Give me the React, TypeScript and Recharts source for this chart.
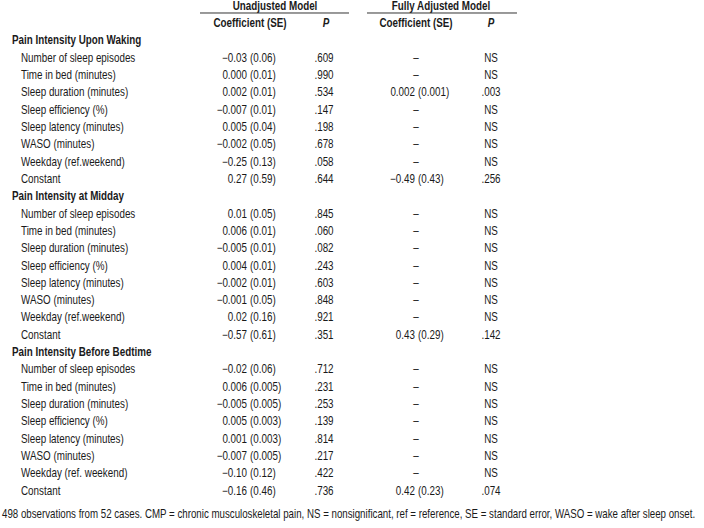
import React from 'react';
import { ComposedChart, Bar, XAxis, YAxis } from 'recharts';

// table content
const groups = ['Pain Intensity Upon Waking', 'Pain Intensity at Midday', 'Pain Intensity Before Bedtime'];
const predictors = [
  'Number of sleep episodes',
  'Time in bed (minutes)',
  'Sleep duration (minutes)',
  'Sleep efficiency (%)',
  'Sleep latency (minutes)',
  'WASO (minutes)',
  'Weekday (ref.weekend)',
  'Constant',
];
const weekdayLabels = ['Weekday (ref.weekend)', 'Weekday (ref.weekend)', 'Weekday (ref. weekend)'];

const wakingCoef = ['\u22120.03', '0.000', '0.002', '\u22120.007', '0.005', '\u22120.002', '\u22120.25', '0.27'];
const wakingSE = ['0.06', '0.01', '0.01', '0.01', '0.04', '0.05', '0.13', '0.59'];
const wakingP = ['.609', '.990', '.534', '.147', '.198', '.678', '.058', '.644'];
const wakingAdjCoef = [null, null, '0.002', null, null, null, null, '\u22120.49'];
const wakingAdjSE = [null, null, '0.001', null, null, null, null, '0.43'];
const wakingAdjP = [null, null, '.003', null, null, null, null, '.256'];

const middayCoef = ['0.01', '0.006', '\u22120.005', '0.004', '\u22120.002', '\u22120.001', '0.02', '\u22120.57'];
const middaySE = ['0.05', '0.01', '0.01', '0.01', '0.01', '0.05', '0.16', '0.61'];
const middayP = ['.845', '.060', '.082', '.243', '.603', '.848', '.921', '.351'];
const middayAdjCoef = [null, null, null, null, null, null, null, '0.43'];
const middayAdjSE = [null, null, null, null, null, null, null, '0.29'];
const middayAdjP = [null, null, null, null, null, null, null, '.142'];

const bedtimeCoef = ['\u22120.02', '0.006', '\u22120.005', '0.005', '0.001', '\u22120.007', '\u22120.10', '\u22120.16'];
const bedtimeSE = ['0.06', '0.005', '0.005', '0.003', '0.003', '0.005', '0.12', '0.46'];
const bedtimeP = ['.712', '.231', '.253', '.139', '.814', '.217', '.422', '.736'];
const bedtimeAdjCoef = [null, null, null, null, null, null, null, '0.42'];
const bedtimeAdjSE = [null, null, null, null, null, null, null, '0.23'];
const bedtimeAdjP = [null, null, null, null, null, null, null, '.074'];

const footnote =
  '498 observations from 52 cases. CMP = chronic musculoskeletal pain, NS = nonsignificant, ref = reference, SE = standard error, WASO = wake after sleep onset.';

const groupValues = [
  [wakingCoef, wakingSE, wakingP, wakingAdjCoef, wakingAdjSE, wakingAdjP],
  [middayCoef, middaySE, middayP, middayAdjCoef, middayAdjSE, middayAdjP],
  [bedtimeCoef, bedtimeSE, bedtimeP, bedtimeAdjCoef, bedtimeAdjSE, bedtimeAdjP],
];

type Row = {
  id: string;
  kind: 'title' | 'sub' | 'group' | 'item' | 'note';
  label?: string;
  coef?: string;
  se?: string;
  p?: string;
  adjCoef?: string | null;
  adjSE?: string | null;
  adjP?: string | null;
  span: number;
};

const rows: Row[] = [
  { id: 'title', kind: 'title', span: 1 },
  { id: 'sub', kind: 'sub', span: 1 },
];
groups.forEach((g, gi) => {
  rows.push({ id: `g${gi}`, kind: 'group', label: g, span: 1 });
  const [coef, se, p, aCoef, aSE, aP] = groupValues[gi];
  predictors.forEach((name, i) => {
    rows.push({
      id: `g${gi}-${i}`,
      kind: 'item',
      label: i === 6 ? weekdayLabels[gi] : name,
      coef: coef[i] as string,
      se: se[i] as string,
      p: p[i] as string,
      adjCoef: aCoef[i],
      adjSE: aSE[i],
      adjP: aP[i],
      span: 1,
    });
  });
});
rows.push({ id: 'note', kind: 'note', label: footnote, span: 1 });

// column anchors (px from the left edge of the plot)
const COL = {
  group: 12,
  item: 21,
  coefEnd: 247,
  seStart: 250,
  p: 324,
  adjCoefEnd: 415,
  adjSeStart: 418,
  adjDash: 416,
  adjP: 491,
};

const ROW_H = 17.31;
// no narrow face installed, so Liberation Sans is squeezed horizontally
const FONT = "'Liberation Sans', Arial, sans-serif";
const NARROW = 0.82;
const INK = '#1a1a1a';

const TableRow = (props: any) => {
  const { x, y, height, index } = props;
  const row: Row = props.payload && props.payload.kind ? props.payload : rows[index];
  const cy = y + height / 2;
  const t = (
    tx: number,
    s: string,
    anchor: 'start' | 'middle' | 'end',
    extra: any = {},
    dy = 0,
    sx = NARROW,
  ) => (
    <text
      transform={`translate(${x + tx},${cy + dy}) scale(${sx},1)`}
      x={0}
      y={0}
      textAnchor={anchor}
      dominantBaseline="central"
      fontFamily={FONT}
      fontSize={12}
      fill={INK}
      {...extra}
    >
      {s}
    </text>
  );

  if (row.kind === 'title') {
    return (
      <g>
        {t(275, 'Unadjusted Model', 'middle', { fontWeight: 'bold' })}
        {t(441, 'Fully Adjusted Model', 'middle', { fontWeight: 'bold' })}
        <line x1={x + 200} x2={x + 349} y1={cy + 7.5} y2={cy + 7.5} stroke="#333" strokeWidth={1} />
        <line x1={x + 367} x2={x + 517} y1={cy + 7.5} y2={cy + 7.5} stroke="#333" strokeWidth={1} />
      </g>
    );
  }
  if (row.kind === 'sub') {
    return (
      <g>
        {t(250, 'Coefficient (SE)', 'middle', { fontWeight: 'bold' })}
        {t(326, 'P', 'middle', { fontWeight: 'bold', fontStyle: 'italic' })}
        {t(416, 'Coefficient (SE)', 'middle', { fontWeight: 'bold' })}
        {t(491, 'P', 'middle', { fontWeight: 'bold', fontStyle: 'italic' })}
      </g>
    );
  }
  if (row.kind === 'group') {
    return <g>{t(COL.group, row.label as string, 'start', { fontWeight: 'bold' })}</g>;
  }
  if (row.kind === 'note') {
    // footnote sits a little below the regular row pitch
    return <g>{t(2, row.label as string, 'start', {}, 6, 0.81)}</g>;
  }
  return (
    <g>
      {t(COL.item, row.label as string, 'start')}
      {t(COL.coefEnd, row.coef as string, 'end')}
      {t(COL.seStart, `(${row.se})`, 'start')}
      {t(COL.p, row.p as string, 'middle')}
      {row.adjCoef ? (
        <>
          {t(COL.adjCoefEnd, row.adjCoef, 'end')}
          {t(COL.adjSeStart, `(${row.adjSE})`, 'start')}
        </>
      ) : (
        t(COL.adjDash, '\u2013', 'middle')
      )}
      {t(COL.adjP, row.adjP ? row.adjP : 'NS', 'middle')}
    </g>
  );
};

export default function App() {
  const h = rows.length * ROW_H;
  // extra room below the last band so the footnote's descenders are not clipped
  const pad = 12;
  return (
    <div style={{ position: 'absolute', left: 0, top: -2.76, width: 704, height: h + pad, background: '#fff' }}>
      <ComposedChart
        width={704}
        height={h + pad}
        data={rows}
        layout="vertical"
        margin={{ top: 0, right: 0, bottom: pad, left: 0 }}
        barCategoryGap={0}
      >
        <XAxis type="number" domain={[0, 1]} hide />
        <YAxis type="category" dataKey="id" hide />
        <Bar dataKey="span" fill="none" isAnimationActive={false} shape={(p: any) => <TableRow {...p} />} />
      </ComposedChart>
    </div>
  );
}
